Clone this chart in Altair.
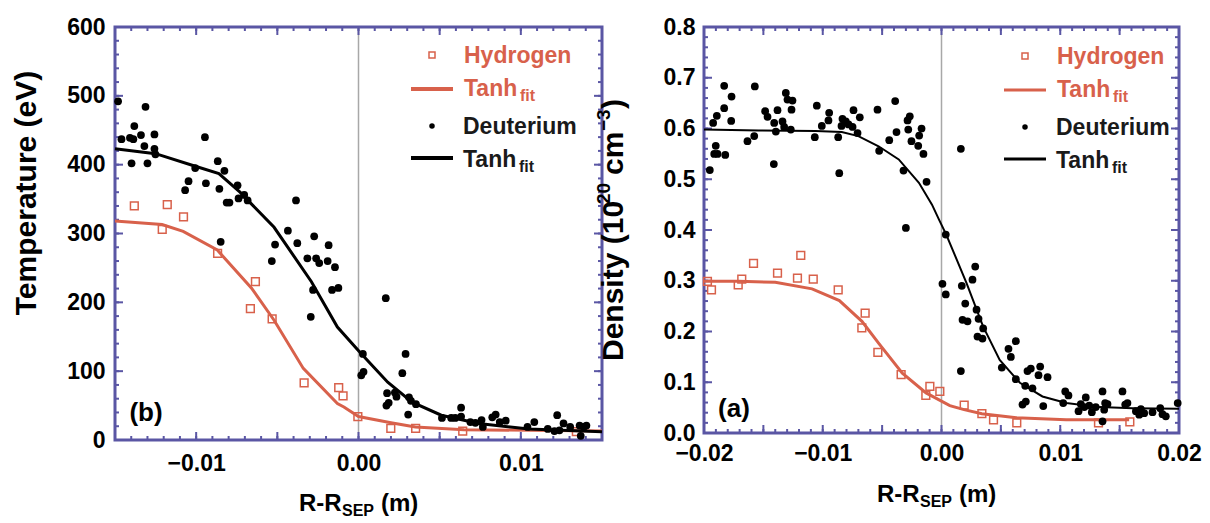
import altair as alt
import pandas as pd

# ---------------- Panel (b): Temperature ----------------
temp_d_x = [-0.01481, -0.01312, -0.01381, -0.01460, -0.01408, -0.01387, -0.01340, -0.01257, -0.01319, -0.01257,
            -0.01251, -0.01398, -0.01300, -0.00946, -0.01006, -0.00867, -0.00826, -0.01047, -0.01068, -0.00940,
            -0.00857, -0.00745, -0.00812, -0.00795, -0.00739, -0.00704, -0.00683, -0.00385, -0.00849, -0.00435,
            -0.00273, -0.00514, -0.00377, -0.00534, -0.00315, -0.00261, -0.00242, -0.00184, -0.00190, -0.00145,
            -0.00280, -0.00163, -0.00124, -0.00294, 0.00027, 0.00017, 0.00168, 0.00031, 0.00290, 0.00270,
            0.00176, 0.00224, 0.00234, 0.00172, 0.00186, 0.00311, 0.00323, 0.00354, 0.00306, 0.00514,
            0.00571, 0.00596, 0.00632, 0.00632, 0.00689, 0.00720, 0.00758, 0.00766, 0.00824, 0.00845,
            0.00870, 0.00907, 0.01041, 0.01083, 0.01166, 0.01207, 0.01224, 0.01263, 0.01238, 0.01304,
            0.01362, 0.01387, 0.01404, 0.01369]
temp_d_y = [492, 484, 456, 437, 439, 437, 443, 444, 427, 423,
            415, 402, 402, 440, 395, 405, 391, 376, 363, 373,
            365, 370, 345, 345, 351, 356, 348, 348, 288, 304,
            296, 284, 286, 260, 264, 264, 257, 283, 260, 251,
            218, 218, 221, 179, 125, 94, 206, 99, 125, 97,
            68, 69, 63, 50, 54, 62, 57, 52, 37, 32,
            32, 32, 47, 34, 26, 25, 29, 19, 33, 37,
            26, 28, 19, 26, 16, 13, 36, 24, 14, 19,
            21, 19, 21, 6]

temp_h_x = [-0.01381, -0.01178, -0.01078, -0.01209, -0.00868, -0.00635, -0.00666, -0.00532, -0.00335, -0.00122,
            -0.00095, -0.00004, 0.00199, 0.00352, 0.00642, 0.01342]
temp_h_y = [340, 342, 324, 306, 271, 230, 191, 176, 83, 76,
            64, 34, 17, 17, 13, 12]

temp_hfit_x = [-0.015, -0.0121, -0.0108, -0.0087, -0.0066, -0.0052, -0.0034, -0.0013, -0.0009, 0.0,
               0.002, 0.0035, 0.0065, 0.015]
temp_hfit_y = [318, 313, 303, 276, 221, 174, 104, 53, 48, 34,
               25, 19, 15, 13]

temp_dfit_x = [-0.015, -0.0125, -0.0101, -0.0086, -0.0073, -0.0066, -0.0052, -0.0029, -0.0013, 0.0001,
               0.0018, 0.0033, 0.0051, 0.0074, 0.0105, 0.015]
temp_dfit_y = [423, 416, 398, 387, 360, 343, 309, 230, 164, 127,
               84, 55, 36, 24, 16, 12]

# ---------------- Panel (a): Density ----------------
dens_d_x = [-0.01951, -0.01923, -0.01892, -0.01830, -0.01830, -0.01768, -0.01771, -0.01901, -0.01914, -0.01886,
            -0.01821, -0.01634, -0.01577, -0.01572, -0.01485, -0.01465, -0.01381, -0.01409, -0.01395, -0.01339,
            -0.01325, -0.01412, -0.01311, -0.01297, -0.01255, -0.01263, -0.01269, -0.01050, -0.01008, -0.00946,
            -0.00952, -0.01067, -0.00861, -0.00870, -0.00842, -0.00834, -0.00806, -0.00783, -0.00741, -0.00749,
            -0.00707, -0.00688, -0.00539, -0.00525, -0.00440, -0.00390, -0.00379, -0.00320, -0.00286, -0.00267,
            -0.00280, -0.00253, -0.00196, -0.00188, -0.00168, -0.00152, -0.00126, 0.00163, -0.00300, 0.00036,
            0.00008, 0.00036, 0.00284, 0.00261, 0.00171, 0.00200, 0.00295, 0.00177, 0.00219, 0.00312,
            0.00351, 0.00303, 0.00345, 0.00163, 0.00508, 0.00626, 0.00564, 0.00584, 0.00626, 0.00705,
            0.00766, 0.00682, 0.00710, 0.00724, 0.00752, 0.00831, 0.00817, 0.00893, 0.00857, 0.01025,
            0.01042, 0.01069, 0.01154, 0.01173, 0.01215, 0.01202, 0.01244, 0.01266, 0.01299, 0.01356,
            0.01378, 0.01370, 0.01398, 0.01356, 0.01524, 0.01547, 0.01566, 0.01637, 0.01665, 0.01707,
            0.01679, 0.01777, 0.01842, 0.01861, 0.01889, 0.01989]
dens_d_y = [0.518, 0.611, 0.625, 0.684, 0.640, 0.663, 0.615, 0.566, 0.550, 0.550,
            0.548, 0.575, 0.585, 0.683, 0.634, 0.623, 0.636, 0.611, 0.594, 0.614,
            0.603, 0.530, 0.670, 0.657, 0.655, 0.637, 0.598, 0.645, 0.605, 0.631,
            0.616, 0.583, 0.512, 0.583, 0.605, 0.619, 0.614, 0.608, 0.636, 0.603,
            0.591, 0.622, 0.637, 0.556, 0.577, 0.654, 0.593, 0.517, 0.616, 0.624,
            0.598, 0.575, 0.566, 0.586, 0.600, 0.550, 0.495, 0.560, 0.404, 0.391,
            0.294, 0.273, 0.328, 0.302, 0.290, 0.255, 0.243, 0.223, 0.220, 0.225,
            0.206, 0.190, 0.186, 0.122, 0.129, 0.181, 0.166, 0.150, 0.106, 0.093,
            0.088, 0.056, 0.062, 0.122, 0.127, 0.131, 0.114, 0.110, 0.053, 0.059,
            0.082, 0.074, 0.043, 0.057, 0.070, 0.051, 0.054, 0.041, 0.051, 0.082,
            0.059, 0.046, 0.057, 0.023, 0.082, 0.056, 0.059, 0.043, 0.036, 0.039,
            0.047, 0.041, 0.049, 0.037, 0.033, 0.059]

dens_h_x = [-0.01971, -0.01937, -0.01712, -0.01682, -0.01583, -0.01381, -0.01213, -0.01185, -0.01080, -0.00870,
            -0.00643, -0.00671, -0.00536, -0.00340, -0.00098, -0.00132, -0.00014, 0.00191, 0.00340, 0.00438,
            0.00634, 0.01322, 0.01586]
dens_h_y = [0.299, 0.282, 0.292, 0.303, 0.334, 0.315, 0.305, 0.350, 0.303, 0.282,
            0.236, 0.207, 0.159, 0.115, 0.092, 0.074, 0.082, 0.055, 0.038, 0.026,
            0.020, 0.020, 0.022]

dens_hfit_x = [-0.02, -0.0171, -0.014, -0.0109, -0.0086, -0.0067, -0.0053, -0.0033, -0.0013, 0.0007,
               0.0019, 0.0034, 0.0063, 0.0105, 0.0158]
dens_hfit_y = [0.299, 0.299, 0.297, 0.284, 0.261, 0.220, 0.177, 0.118, 0.079, 0.054,
               0.046, 0.038, 0.030, 0.026, 0.026]

dens_dfit_x = [-0.02, -0.0154, -0.0106, -0.0084, -0.0070, -0.0053, -0.0036, -0.0019, -0.0008, -0.0002,
               0.0004, 0.0021, 0.0035, 0.0049, 0.0066, 0.0085, 0.0105, 0.0133, 0.0161, 0.02]
dens_dfit_y = [0.598, 0.596, 0.595, 0.593, 0.585, 0.565, 0.539, 0.493, 0.450, 0.420,
               0.391, 0.296, 0.210, 0.144, 0.099, 0.072, 0.059, 0.051, 0.049, 0.048]

zero_line = [0.0]
legend_labels = ["Hydrogen", "Tanh", "Deuterium", "Tanh"]
legend_sub = "fit"

RED = "#D8614B"
PURPLE = "#5A56A4"
FONT = "Liberation Sans, Arial, Helvetica, sans-serif"
ONE = pd.DataFrame({"d": [0]})


def df(xs, ys):
    return pd.DataFrame({"x": xs, "y": ys})


def frange(a, b, step):
    n = int(round((b - a) / step))
    return [round(a + i * step, 6) for i in range(n + 1)]


def label_axis(orient, values, fmt, pad):
    return alt.Axis(orient=orient, values=values, format=fmt, ticks=False, tickSize=0, domain=False,
                    grid=False, title=None, labelFont=FONT, labelFontSize=23, labelFontWeight="bold",
                    labelColor="black", labelPadding=pad, labelFlush=False, labelOverlap=False)


def txt(s, x, y, size, color="black", angle=None, align="left", baseline="middle"):
    kw = dict(font=FONT, fontSize=size, fontWeight="bold", color=color, align=align, baseline=baseline)
    if angle is not None:
        kw["angle"] = angle
    return alt.Chart(ONE).mark_text(text=s, **kw).encode(x=alt.value(x), y=alt.value(y))


def frame_ticks(xs, ys, w, h, xminor, xmajor, yminor, ymajor):
    out = []
    for vals, L in ((xminor, 4), (xmajor, 8)):
        d = pd.DataFrame({"t": vals})
        out.append(alt.Chart(d).mark_rule(color=PURPLE, strokeWidth=2).encode(
            x=alt.X("t:Q", scale=xs, axis=None), y=alt.value(h - L), y2=alt.value(h)))
        out.append(alt.Chart(d).mark_rule(color=PURPLE, strokeWidth=2).encode(
            x=alt.X("t:Q", scale=xs, axis=None), y=alt.value(0), y2=alt.value(L)))
    for vals, L in ((yminor, 4), (ymajor, 8)):
        d = pd.DataFrame({"t": vals})
        out.append(alt.Chart(d).mark_rule(color=PURPLE, strokeWidth=2).encode(
            y=alt.Y("t:Q", scale=ys, axis=None), x=alt.value(0), x2=alt.value(L)))
        out.append(alt.Chart(d).mark_rule(color=PURPLE, strokeWidth=2).encode(
            y=alt.Y("t:Q", scale=ys, axis=None), x=alt.value(w - L), x2=alt.value(w)))
    return out


def panel(xdom, ydom, w, h, d_pts, h_pts, d_fit, h_fit, xlab_vals, xfmt, ylab_vals, yfmt,
          xminor, xmajor, yminor, ymajor, xpad, ypad, dfit_w, leg, tag, ytitle_layers, xt):
    xs = alt.Scale(domain=xdom, nice=False, zero=False)
    ys = alt.Scale(domain=ydom, nice=False, zero=False)

    layers = []
    # first layer carries the labelled axes
    layers.append(alt.Chart(df(*d_pts)).mark_point(opacity=0, size=1).encode(
        x=alt.X("x:Q", scale=xs, axis=label_axis("bottom", xlab_vals, xfmt, xpad)),
        y=alt.Y("y:Q", scale=ys, axis=label_axis("left", ylab_vals, yfmt, ypad))))
    layers.append(alt.Chart(pd.DataFrame({"x": zero_line})).mark_rule(color="#A8A8A8", strokeWidth=1.5)
                  .encode(x=alt.X("x:Q", scale=xs, axis=None)))
    layers.extend(frame_ticks(xs, ys, w, h, xminor, xmajor, yminor, ymajor))
    layers.append(alt.Chart(df(*h_fit)).mark_line(color=RED, strokeWidth=3).encode(
        x=alt.X("x:Q", scale=xs, axis=None), y=alt.Y("y:Q", scale=ys, axis=None)))
    layers.append(alt.Chart(df(*h_pts)).mark_point(shape="square", filled=False, color=RED, size=60,
                                                    strokeWidth=1.5, opacity=1).encode(
        x=alt.X("x:Q", scale=xs, axis=None), y=alt.Y("y:Q", scale=ys, axis=None)))
    layers.append(alt.Chart(df(*d_fit)).mark_line(color="black", strokeWidth=dfit_w).encode(
        x=alt.X("x:Q", scale=xs, axis=None), y=alt.Y("y:Q", scale=ys, axis=None)))
    layers.append(alt.Chart(df(*d_pts)).mark_circle(color="black", size=60, opacity=1).encode(
        x=alt.X("x:Q", scale=xs, axis=None), y=alt.Y("y:Q", scale=ys, axis=None)))

    # legend
    lx, ly, lw = leg
    layers.append(alt.Chart(ONE).mark_point(shape="square", filled=False, color=RED, size=36, strokeWidth=1.5,
                                            opacity=1).encode(x=alt.value(lx), y=alt.value(ly)))
    layers.append(alt.Chart(ONE).mark_rule(color=RED, strokeWidth=lw).encode(
        x=alt.value(lx - 21), x2=alt.value(lx + 21), y=alt.value(ly + 34)))
    layers.append(alt.Chart(ONE).mark_circle(color="black", size=30, opacity=1).encode(
        x=alt.value(lx), y=alt.value(ly + 71)))
    layers.append(alt.Chart(ONE).mark_rule(color="black", strokeWidth=lw).encode(
        x=alt.value(lx - 21), x2=alt.value(lx + 21), y=alt.value(ly + 103)))
    tx = lx + 32
    layers.append(txt(legend_labels[0], tx, ly + 1, 23, RED))
    layers.append(txt(legend_labels[1], tx, ly + 34, 23, RED))
    layers.append(txt(legend_sub, tx + 56, ly + 41, 16, RED))
    layers.append(txt(legend_labels[2], tx - 1, ly + 72, 23, "#1a1a1a"))
    layers.append(txt(legend_labels[3], tx - 1, ly + 105, 23, "#1a1a1a"))
    layers.append(txt(legend_sub, tx + 55, ly + 112, 16, "#1a1a1a"))

    # panel tag
    layers.append(txt(tag[0], tag[1], tag[2], 26, "black", align="center"))

    # x title: R-R_SEP (m)
    cx, cy = xt
    start = cx - 59
    layers.append(txt("R-R", start, cy, 24))
    layers.append(txt("SEP", start + 43, cy + 7, 16))
    layers.append(txt("(m)", start + 82, cy, 24))

    layers.extend(ytitle_layers)

    return alt.layer(*layers).resolve_axis(x="independent", y="independent").properties(width=w, height=h)


left_ytitle = [txt("Temperature (eV)", -88, 166, 30, angle=270, align="center")]

b = 334
F = 30
S = 19
yx = -90
right_ytitle = [
    txt("Density (10", yx, b, F, angle=270),
    txt("20", yx - 10, b - 157, S, angle=270),
    txt("cm", yx, b - 157 - 21 - 8, F, angle=270),
    txt("\u22123", yx - 10, b - 157 - 21 - 8 - 44, S, angle=270),
    txt(")", yx, b - 157 - 21 - 8 - 44 - 22, F, angle=270),
]

left = panel(
    [-0.015, 0.015], [0, 600], 487, 413,
    (temp_d_x, temp_d_y), (temp_h_x, temp_h_y), (temp_dfit_x, temp_dfit_y), (temp_hfit_x, temp_hfit_y),
    [-0.01, 0.0, 0.01], ".2f", [0, 100, 200, 300, 400, 500, 600], "d",
    frange(-0.015, 0.015, 0.001), frange(-0.015, 0.015, 0.005), frange(0, 600, 20), frange(0, 600, 100),
    12, 10, 3, (317, 28, 4), ("(b)", 31, 386), left_ytitle,
    (243, 477),
)
right = panel(
    [-0.02, 0.02], [0, 0.8], 475, 406,
    (dens_d_x, dens_d_y), (dens_h_x, dens_h_y), (dens_dfit_x, dens_dfit_y), (dens_hfit_x, dens_hfit_y),
    [-0.02, -0.01, 0.0, 0.01, 0.02], ".2f", [0.0, 0.1, 0.2, 0.3, 0.4, 0.5, 0.6, 0.7, 0.8], ".1f",
    frange(-0.02, 0.02, 0.001), frange(-0.02, 0.02, 0.005), frange(0, 0.8, 0.02), frange(0, 0.8, 0.1),
    9, 9, 2, (321, 29, 3), ("(a)", 30, 382), right_ytitle,
    (232, 468),
)

chart = alt.hconcat(left, right, spacing=102, bounds="flush").configure_view(
    stroke=PURPLE, strokeWidth=3
).properties(padding={"left": 10, "top": 14, "right": 5, "bottom": 5})

chart.save("out.html", embed_options={"renderer": "svg", "actions": False})
